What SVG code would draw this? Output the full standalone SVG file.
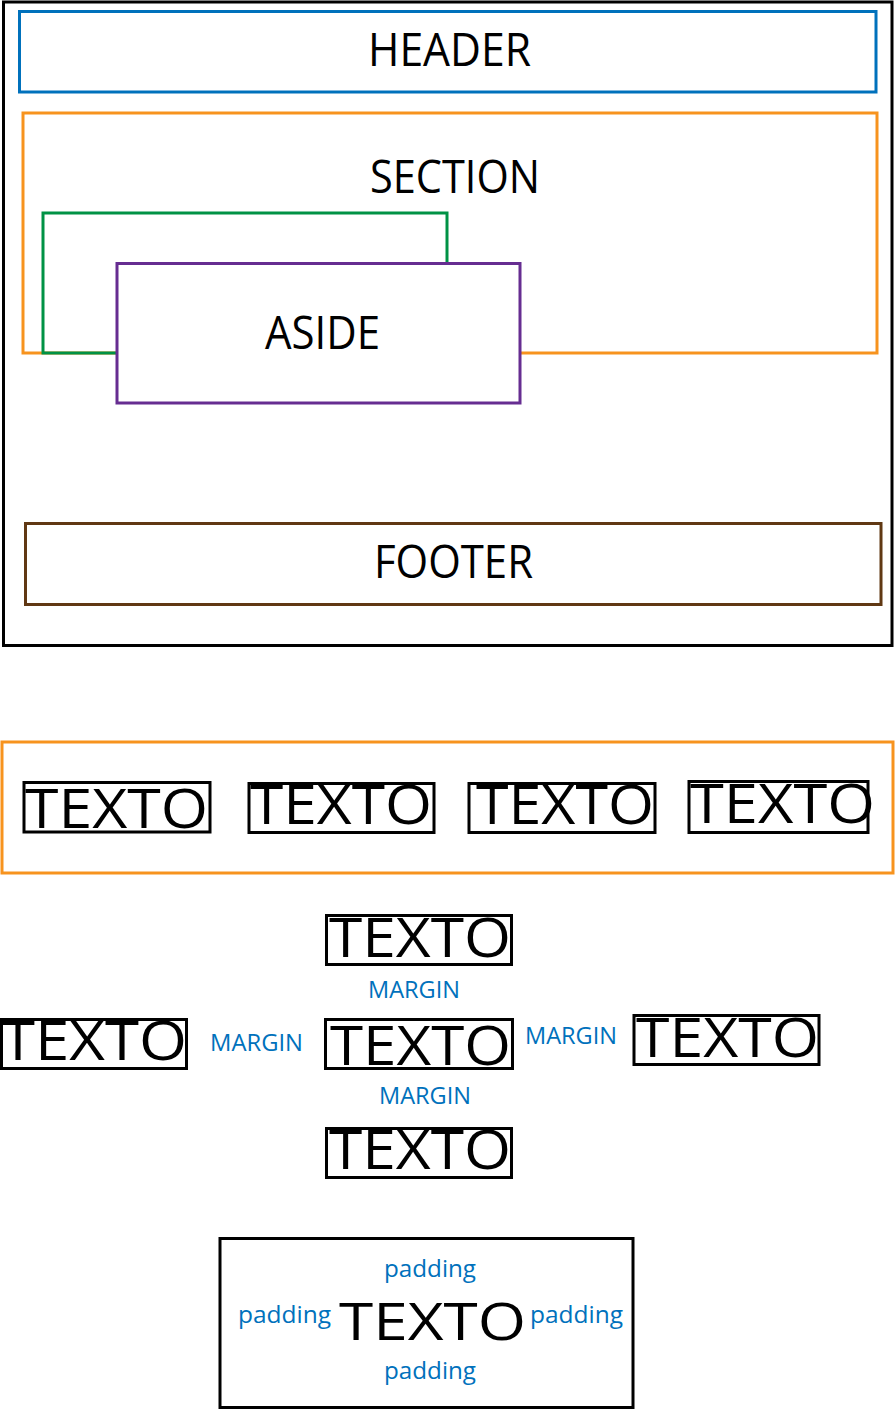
<svg xmlns="http://www.w3.org/2000/svg" width="895" height="1410" viewBox="0 0 895 1410">
<style>
rect{fill:none;stroke-width:3}
.k{stroke:#000}
.t{font-family:"Open Sans","Noto Sans",sans-serif;fill:#000}
.b{font-family:"Open Sans","Noto Sans",sans-serif;fill:#0071BC}
</style>
<rect width="895" height="1410" style="fill:#fff;stroke:none"/>
<g id="page">
<rect class="k" x="3.5" y="2" width="888.5" height="643.5"/>
</g>
<g id="header">
<rect x="19.5" y="11.5" width="856.5" height="80.5" stroke="#0071BC"/>
<text class="t" x="368" y="66" font-size="46" textLength="163" lengthAdjust="spacingAndGlyphs">HEADER</text>
</g>
<g id="section">
<rect x="23" y="113" width="854" height="240" stroke="#F7931E"/>
<text class="t" x="370" y="193" font-size="46" textLength="170" lengthAdjust="spacingAndGlyphs">SECTION</text>
</g>
<g id="green-box">
<rect x="43" y="213" width="404" height="140" stroke="#009245"/>
</g>
<g id="aside">
<rect x="117" y="263.5" width="403" height="139.5" stroke="#662D91" style="fill:#fff"/>
<text class="t" x="265" y="349" font-size="46" textLength="115" lengthAdjust="spacingAndGlyphs">ASIDE</text>
</g>
<g id="footer">
<rect x="25.5" y="523.5" width="855.5" height="81" stroke="#603813"/>
<text class="t" x="374" y="578" font-size="46" textLength="159" lengthAdjust="spacingAndGlyphs">FOOTER</text>
</g>
<g id="inline-row">
<rect x="2" y="742" width="891" height="131" stroke="#F7931E"/>
</g>
<g id="inline-1">
<rect class="k" x="24" y="782.5" width="186" height="49.5"/>
<text class="t" x="25" y="828" font-size="55" textLength="183" lengthAdjust="spacingAndGlyphs">TEXTO</text>
</g>
<g id="inline-2">
<rect class="k" x="249" y="783.5" width="185" height="49"/>
<text class="t" x="250" y="824" font-size="55" textLength="182" lengthAdjust="spacingAndGlyphs">TEXTO</text>
</g>
<g id="inline-3">
<rect class="k" x="469" y="783.5" width="186" height="49"/>
<text class="t" x="476" y="824" font-size="55" textLength="178" lengthAdjust="spacingAndGlyphs">TEXTO</text>
</g>
<g id="inline-4">
<rect class="k" x="689" y="781.5" width="179" height="51"/>
<text class="t" x="690" y="823" font-size="55" textLength="185" lengthAdjust="spacingAndGlyphs">TEXTO</text>
</g>
<g id="margin-top">
<rect class="k" x="326.5" y="915.5" width="185" height="49"/>
<text class="t" x="329" y="957" font-size="54" textLength="182" lengthAdjust="spacingAndGlyphs">TEXTO</text>
</g>
<g id="margin-left">
<rect class="k" x="1.5" y="1019.5" width="185" height="49"/>
<text class="t" x="1" y="1060" font-size="54" textLength="186" lengthAdjust="spacingAndGlyphs">TEXTO</text>
</g>
<g id="margin-center">
<rect class="k" x="325.5" y="1019.5" width="187" height="49"/>
<text class="t" x="330" y="1065" font-size="54" textLength="181" lengthAdjust="spacingAndGlyphs">TEXTO</text>
</g>
<g id="margin-right">
<rect class="k" x="634" y="1015.5" width="185" height="49"/>
<text class="t" x="636" y="1057" font-size="54" textLength="183" lengthAdjust="spacingAndGlyphs">TEXTO</text>
</g>
<g id="margin-bottom">
<rect class="k" x="326.5" y="1128.5" width="185" height="49"/>
<text class="t" x="329" y="1169" font-size="54" textLength="182" lengthAdjust="spacingAndGlyphs">TEXTO</text>
</g>
<g id="margin-labels">
<text class="b" x="368" y="998" font-size="24" textLength="92" lengthAdjust="spacingAndGlyphs">MARGIN</text>
<text class="b" x="210" y="1051" font-size="24" textLength="93" lengthAdjust="spacingAndGlyphs">MARGIN</text>
<text class="b" x="525" y="1044" font-size="24" textLength="92" lengthAdjust="spacingAndGlyphs">MARGIN</text>
<text class="b" x="379" y="1104" font-size="24" textLength="92" lengthAdjust="spacingAndGlyphs">MARGIN</text>
</g>
<g id="padding-box">
<rect class="k" x="220" y="1238.5" width="413" height="169"/>
<text class="t" x="339" y="1340" font-size="52" textLength="187" lengthAdjust="spacingAndGlyphs">TEXTO</text>
<text class="b" x="384" y="1277" font-size="23" textLength="92" lengthAdjust="spacingAndGlyphs">padding</text>
<text class="b" x="238" y="1323" font-size="23" textLength="93" lengthAdjust="spacingAndGlyphs">padding</text>
<text class="b" x="530" y="1323" font-size="23" textLength="93" lengthAdjust="spacingAndGlyphs">padding</text>
<text class="b" x="384" y="1379" font-size="23" textLength="92" lengthAdjust="spacingAndGlyphs">padding</text>
</g>
</svg>
